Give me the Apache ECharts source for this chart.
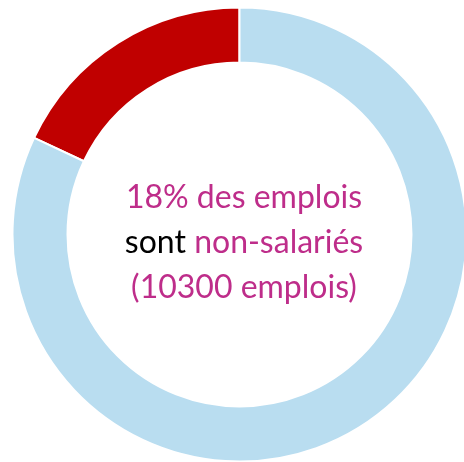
<!DOCTYPE html>
<html>
<head>
<meta charset="utf-8">
<script src="https://cdn.jsdelivr.net/npm/echarts@6/dist/echarts.min.js"></script>
<style>
  html, body { margin: 0; padding: 0; background: #fff; }
  #chart { width: 464px; height: 462px; }
</style>
</head>
<body>
<div id="chart"></div>
<script>
const categories = ["Non-salariés", "Salariés"];
const shares = [18, 82];
const sliceColors = ["#C00000", "#B9DDF0"];
const centerLines = ["18% des emplois", "sont", "non-salariés", "(10300 emplois)"];

const chart = echarts.init(document.getElementById("chart"));
const option = {
  animation: false,
  title: {
    text: "{m|" + centerLines[0] + "}\n{k|" + centerLines[1] + "\u00a0}{m|" + centerLines[2] + "}\n{m|" + centerLines[3] + "}",
    left: 239,
    top: 238,
    textAlign: "center",
    textVerticalAlign: "middle",
    textStyle: {
      fontWeight: "normal",
      rich: {
        m: { color: "#BE2D8A", fontSize: 32, fontFamily: "Lato", fontWeight: "normal", lineHeight: 45 },
        k: { color: "#000000", fontSize: 32, fontFamily: "Lato", fontWeight: "normal", lineHeight: 45 },
      },
    },
  },
  series: [
    {
      type: "pie",
      center: [239.5, 234.5],
      radius: [172, 227],
      startAngle: 90,
      clockwise: false,
      label: { show: false },
      labelLine: { show: false },
      itemStyle: { borderColor: "#fff", borderWidth: 2 },
      data: categories.map((name, i) => ({
        name,
        value: shares[i],
        itemStyle: { color: sliceColors[i] },
      })),
    },
  ],
};
chart.setOption(option);
</script>
</body>
</html>
